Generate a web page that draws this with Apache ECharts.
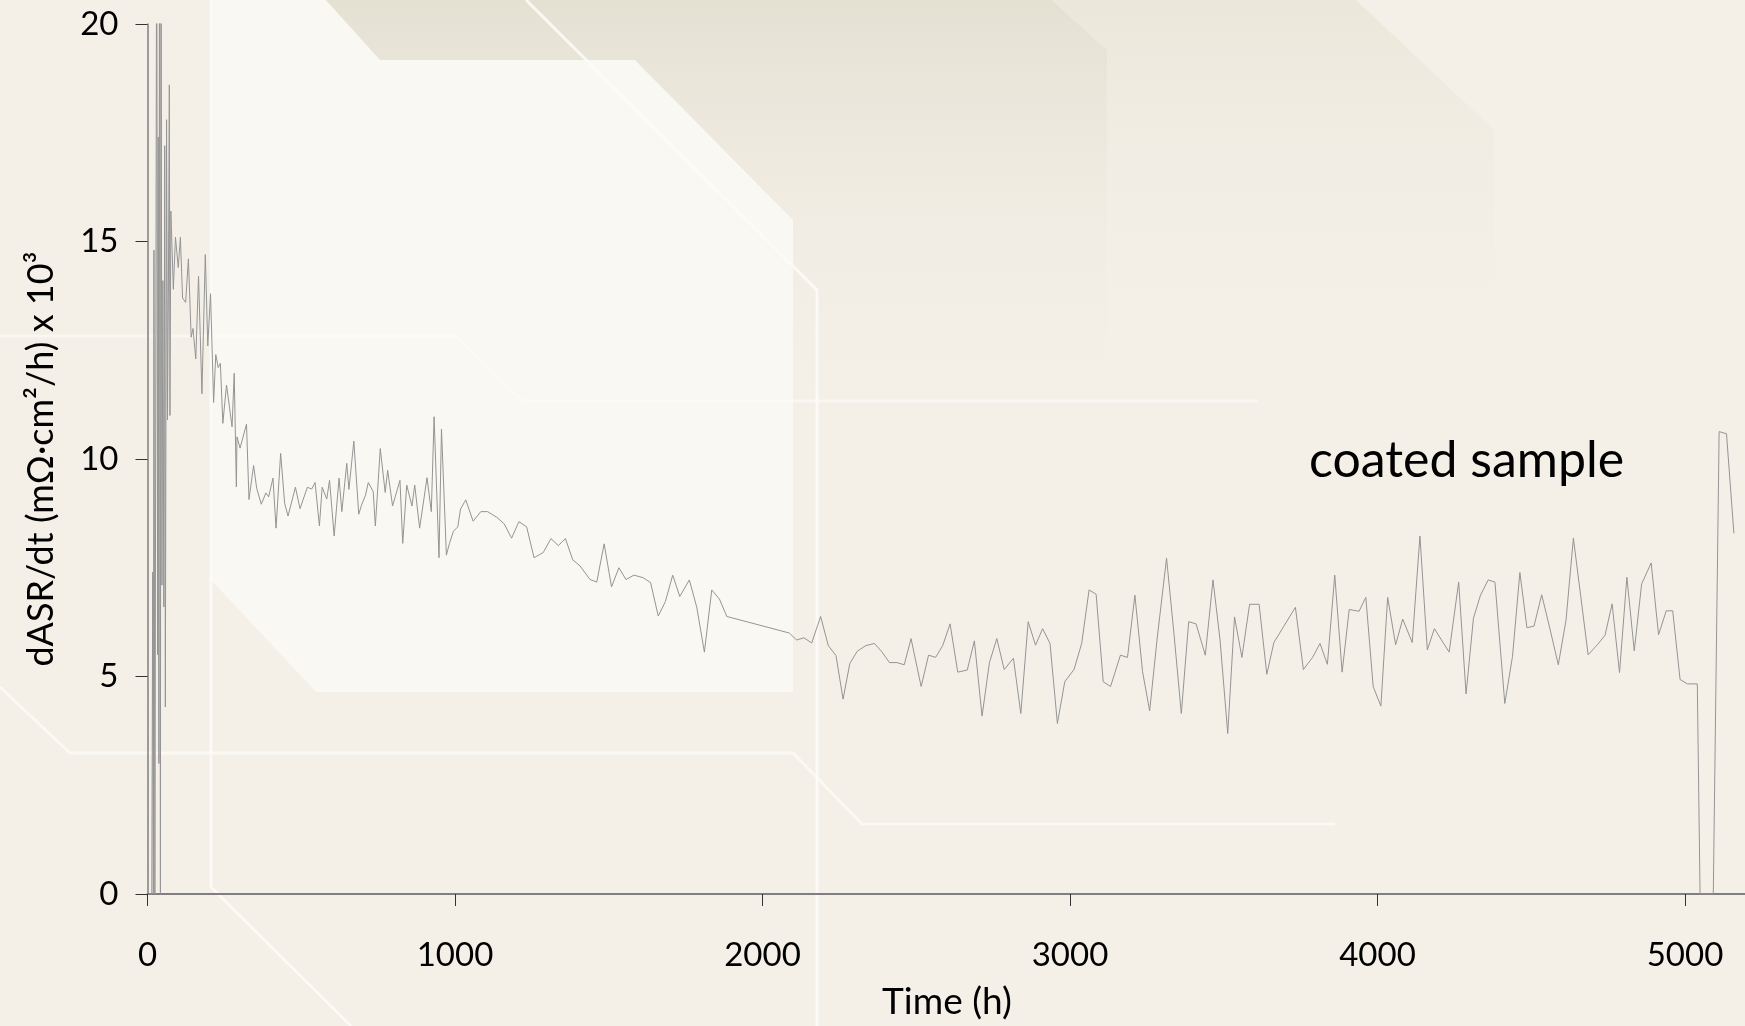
<!DOCTYPE html>
<html>
<head>
<meta charset="utf-8">
<title>dASR/dt vs time – coated sample</title>
<script src="https://cdn.jsdelivr.net/npm/echarts@6/dist/echarts.min.js"></script>
<style>
  html, body { margin: 0; padding: 0; background: #f4f0e8; }
  #chart { width: 1745px; height: 1026px; }
</style>
</head>
<body>
<div id="chart"></div>
<script>
// Time axis ticks
const timeTicks = [0, 1000, 2000, 3000, 4000, 5000];
const rateTicks = [0, 5, 10, 15, 20];

// Measurement times (h)
const timeH = [
  5, 14, 17, 19, 21, 24, 27, 30, 33, 35, 37, 39, 42, 44, 47, 50, 53, 56, 58, 62,
  65, 68, 71, 73, 76, 84, 91, 100, 107, 114, 124, 133, 142, 148, 157, 166, 177, 188, 196, 205,
  215, 222, 230, 237, 245, 257, 275, 282, 289, 291, 301, 307, 322, 330, 345, 355, 370, 385, 394, 408,
  418, 433, 446, 457, 481, 496, 520, 534, 545, 559, 568, 583, 592, 607, 623, 632, 648, 655, 671, 687,
  696, 709, 718, 734, 741, 757, 773, 781, 797, 821, 830, 843, 860, 869, 885, 909, 923, 932, 948, 956,
  972, 982, 995, 1009, 1018, 1035, 1059, 1084, 1106, 1136, 1160, 1184, 1208, 1233, 1257, 1287, 1312, 1336, 1359, 1383,
  1407, 1439, 1461, 1485, 1509, 1533, 1556, 1582, 1612, 1636, 1661, 1684, 1708, 1731, 1762, 1786, 1811, 1835, 1860, 1884,
  2087, 2111, 2135, 2160, 2189, 2214, 2239, 2262, 2284, 2308, 2336, 2364, 2388, 2413, 2437, 2461, 2483, 2516, 2540, 2563,
  2586, 2610, 2635, 2666, 2689, 2714, 2738, 2762, 2786, 2816, 2840, 2864, 2888, 2911, 2935, 2959, 2983, 3013, 3038, 3062,
  3085, 3108, 3132, 3164, 3187, 3211, 3236, 3259, 3284, 3314, 3338, 3362, 3386, 3410, 3440, 3465, 3488, 3513, 3535, 3559,
  3584, 3615, 3640, 3663, 3733, 3759, 3789, 3813, 3837, 3861, 3885, 3908, 3940, 3962, 3986, 4011, 4033, 4059, 4082, 4113,
  4138, 4162, 4185, 4233, 4264, 4288, 4312, 4335, 4360, 4382, 4414, 4439, 4463, 4486, 4509, 4534, 4561, 4588, 4613, 4637,
  4661, 4685, 4715, 4740, 4763, 4787, 4811, 4835, 4859, 4890, 4914, 4939, 4960, 4984, 5008, 5040, 5049, 5092, 5111, 5135,
  5159
];

// dASR/dt (mOhm·cm²/h) x 10^3
const dASRdt = [
  0, 0, 7.4, 0, 14.8, 0, 0, 24, 5.5, 17.4, 3.0, 24, 0, 24, 7.1, 14.1, 6.6, 17.2, 4.3, 17.8,
  10.9, 14.0, 18.6, 11.0, 15.7, 13.9, 15.1, 14.4, 15.1, 13.7, 13.6, 14.6, 12.8, 13.0, 12.3, 14.2, 11.5, 14.7, 12.6, 13.8,
  11.3, 12.4, 12.1, 12.2, 10.82, 11.7, 10.74, 11.97, 9.36, 10.51, 10.25, 10.21, 10.8, 9.07, 9.85, 9.33, 8.96, 9.22, 9.13, 9.56,
  8.41, 10.13, 8.98, 8.69, 9.35, 8.86, 9.35, 9.31, 9.46, 8.46, 9.35, 9.08, 9.51, 8.23, 9.56, 8.79, 9.9, 9.3, 10.41, 8.73,
  8.94, 9.17, 9.46, 9.25, 8.46, 10.24, 9.23, 9.74, 8.92, 9.51, 8.06, 9.4, 8.92, 9.4, 8.41, 9.57, 8.79, 10.97, 7.73, 10.69,
  7.79, 8.06, 8.34, 8.44, 8.85, 9.06, 8.57, 8.79, 8.79, 8.66, 8.51, 8.18, 8.56, 8.44, 7.73, 7.85, 8.17, 8.01, 8.17, 7.68,
  7.54, 7.23, 7.17, 8.05, 7.06, 7.5, 7.23, 7.33, 7.27, 7.16, 6.39, 6.72, 7.33, 6.84, 7.22, 6.6, 5.56, 6.99, 6.78, 6.38,
  6.0, 5.84, 5.89, 5.77, 6.38, 5.71, 5.48, 4.48, 5.3, 5.58, 5.71, 5.76, 5.57, 5.32, 5.32, 5.27, 5.87, 4.77, 5.49, 5.44,
  5.71, 6.21, 5.1, 5.15, 5.82, 4.09, 5.32, 5.87, 5.16, 5.42, 4.15, 6.26, 5.72, 6.1, 5.76, 3.92, 4.88, 5.16, 5.76, 6.99,
  6.89, 4.88, 4.77, 5.49, 5.44, 6.87, 5.11, 4.21, 5.91, 7.72, 5.99, 4.15, 6.26, 6.21, 5.49, 7.22, 5.84, 3.69, 6.37, 5.44,
  6.66, 6.66, 5.05, 5.78, 6.59, 5.16, 5.44, 5.76, 5.28, 7.33, 5.1, 6.54, 6.5, 6.82, 4.77, 4.32, 6.82, 5.73, 6.32, 5.78,
  8.23, 5.61, 6.1, 5.56, 7.17, 4.6, 6.34, 6.87, 7.22, 7.17, 4.38, 5.46, 7.39, 6.12, 6.16, 6.88, 6.09, 5.27, 6.29, 8.18,
  6.84, 5.5, 5.73, 5.95, 6.67, 5.09, 7.28, 5.59, 7.13, 7.61, 5.96, 6.51, 6.51, 4.93, 4.83, 4.83, 0, 0, 10.63, 10.58,
  8.29
];

const seriesLabel = 'coated sample';
const xName = 'Time (h)';
const yName = 'dASR/dt (mΩ·cm²/h) x 10³';

const FONT = "Lato, 'Noto Sans', 'DejaVu Sans', sans-serif";

const points = timeH.map((t, i) => [t, dASRdt[i]]);

// Decorative slide background: soft panels and pale guide lines
const fade = (c0) => ({
  type: 'linear', x: 0, y: 0, x2: 0, y2: 1,
  colorStops: [{ offset: 0, color: c0 }, { offset: 1, color: 'rgba(244,240,232,0)' }]
});
const bgLine = (pts, op) => ({
  type: 'polyline', z: -9, silent: true,
  shape: { points: pts },
  style: { stroke: '#fdfcf8', lineWidth: 3, fill: null, opacity: op }
});
const background = [
  { type: 'polygon', z: -10, silent: true,
    shape: { points: [[211,0],[326,0],[380,60],[635,60],[793,220],[793,692],[316,692],[211,580]] },
    style: { fill: '#f9f8f3' } },
  { type: 'polygon', z: -10, silent: true,
    shape: { points: [[326,0],[1052,0],[1107,50],[1107,430],[793,430],[793,220],[635,60],[380,60]] },
    style: { fill: fade('#e4e0d2') } },
  { type: 'polygon', z: -10, silent: true,
    shape: { points: [[1052,0],[1356,0],[1494,130],[1494,370],[1107,370],[1107,50]] },
    style: { fill: fade('#ebe7da') } },
  bgLine([[211,0],[211,887],[351,1026]], 0.85),
  bgLine([[526,0],[817,290],[817,1026]], 0.85),
  bgLine([[0,336],[456,336],[523,401],[1258,401]], 0.6),
  bgLine([[0,687],[70,753],[793,753],[862,824],[1335,824]], 0.7)
];

const chart = echarts.init(document.getElementById('chart'), null, { renderer: 'canvas' });

chart.setOption({
  animation: false,
  backgroundColor: '#f4f0e8',
  textStyle: { fontFamily: FONT },
  grid: { left: 147.5, top: 24, width: 1599, height: 870, containLabel: false, outerBoundsMode: 'none' },
  xAxis: {
    type: 'value',
    min: timeTicks[0], max: 5200, interval: 1000,
    name: xName, nameLocation: 'middle', nameGap: 90,
    nameTextStyle: { fontSize: 37, color: '#000', fontFamily: FONT },
    axisLine: { show: true, lineStyle: { color: '#7f7f7f', width: 2 } },
    axisTick: { show: true, length: 12, lineStyle: { color: '#333', width: 1 } },
    axisLabel: { margin: 45, fontSize: 33, color: '#000', fontFamily: FONT, showMaxLabel: false,
      formatter: v => (timeTicks.includes(v) ? String(v) : '') },
    splitLine: { show: false }
  },
  yAxis: {
    type: 'value',
    min: rateTicks[0], max: rateTicks[rateTicks.length - 1], interval: 5,
    name: yName, nameLocation: 'middle', nameGap: 88, nameRotate: 90,
    nameTextStyle: { fontSize: 36, color: '#000', fontFamily: FONT },
    axisLine: { show: true, lineStyle: { color: '#7f7f7f', width: 1.5 } },
    axisTick: { show: true, length: 12, lineStyle: { color: '#333', width: 1 } },
    axisLabel: { margin: 29, fontSize: 33, color: '#000', fontFamily: FONT },
    splitLine: { show: false }
  },
  graphic: background.concat([
    { type: 'text', z: 10, left: 1309, top: 436,
      style: { text: seriesLabel, font: '50px ' + FONT, fill: '#000' } }
  ]),
  series: [{
    name: seriesLabel,
    type: 'line',
    data: points,
    showSymbol: false,
    clip: true,
    lineStyle: { color: '#949494', width: 1 },
    emphasis: { disabled: true }
  }]
});
</script>
</body>
</html>
